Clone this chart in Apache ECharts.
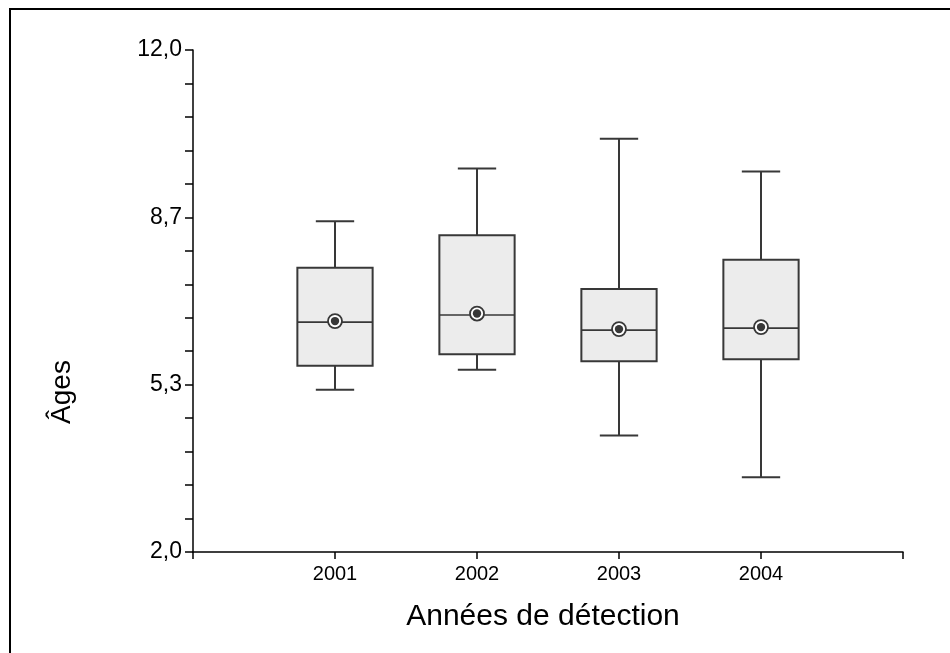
<!DOCTYPE html>
<html>
<head>
<meta charset="utf-8">
<title>Âges par année de détection</title>
<script src="https://cdn.jsdelivr.net/npm/echarts@6/dist/echarts.min.js"></script>
<style>
  html, body { margin: 0; padding: 0; background: #fff; }
  #chart { width: 950px; height: 653px; }
</style>
</head>
<body>
<div id="chart"></div>
<script>
// valeurs
var years = ['2001', '2002', '2003', '2004'];
var mins = [5.23, 5.63, 4.32, 3.49];
var q1s = [5.71, 5.94, 5.80, 5.84];
var medians = [6.58, 6.72, 6.42, 6.46];
var q3s = [7.66, 8.31, 7.24, 7.82];
var maxs = [8.59, 9.64, 10.23, 9.58];
var means = [6.60, 6.75, 6.44, 6.48];

var FONT = 'Liberation Sans, Arial, sans-serif';
var INK = '#383838';

// axe x : une case vide de chaque côté
var xCats = [''].concat(years, ['']);
var boxData = years.map(function (y, i) {
  return [i + 1, mins[i], q1s[i], medians[i], q3s[i], maxs[i], means[i]];
});

function renderBox(params, api) {
  var x = api.value(0);
  var lo = api.coord([x, api.value(1)]);
  var b1 = api.coord([x, api.value(2)]);
  var md = api.coord([x, api.value(3)]);
  var b3 = api.coord([x, api.value(4)]);
  var hi = api.coord([x, api.value(5)]);
  var mn = api.coord([x, api.value(6)]);
  var band = api.size([1, 0])[0];
  var hw = band * 0.265;
  var cw = band * 0.135;
  var cx = lo[0];
  var line = { stroke: INK, lineWidth: 2 };
  return {
    type: 'group',
    children: [
      { type: 'line', shape: { x1: cx, y1: hi[1], x2: cx, y2: b3[1] }, style: line },
      { type: 'line', shape: { x1: cx, y1: b1[1], x2: cx, y2: lo[1] }, style: line },
      { type: 'line', shape: { x1: cx - cw, y1: hi[1], x2: cx + cw, y2: hi[1] }, style: line },
      { type: 'line', shape: { x1: cx - cw, y1: lo[1], x2: cx + cw, y2: lo[1] }, style: line },
      { type: 'rect', shape: { x: cx - hw, y: b3[1], width: hw * 2, height: b1[1] - b3[1] },
        style: { fill: '#ececec', stroke: INK, lineWidth: 2 } },
      { type: 'line', shape: { x1: cx - hw, y1: md[1], x2: cx + hw, y2: md[1] },
        style: { stroke: INK, lineWidth: 1.6 } },
      { type: 'circle', shape: { cx: cx, cy: mn[1], r: 7 },
        style: { fill: '#fff', stroke: INK, lineWidth: 1.8 } },
      { type: 'circle', shape: { cx: cx, cy: mn[1], r: 4.2 }, style: { fill: INK } }
    ]
  };
}

var myChart = echarts.init(document.getElementById('chart'), null, { renderer: 'canvas' });
myChart.setOption({
  animation: false,
  backgroundColor: '#fff',
  grid: { left: 193, top: 50, right: 47, bottom: 101, containLabel: false },
  xAxis: {
    type: 'category',
    data: xCats,
    boundaryGap: false,
    axisLine: { lineStyle: { color: '#000', width: 1.5 } },
    axisTick: { show: true, interval: 0, length: 7, lineStyle: { color: '#000', width: 1.5 } },
    axisLabel: { interval: 0, margin: 12, color: '#000', fontSize: 20, fontFamily: FONT },
    splitLine: { show: false }
  },
  yAxis: {
    type: 'value',
    min: 2,
    max: 12,
    interval: 10 / 3,
    axisLine: { show: true, lineStyle: { color: '#000', width: 1.5 } },
    axisTick: { show: true, length: 8, lineStyle: { color: '#000', width: 1.5 } },
    minorTick: { show: true, splitNumber: 5, length: 8, lineStyle: { color: '#000', width: 1.5 } },
    axisLabel: {
      margin: 11, color: '#000', fontSize: 23, fontFamily: FONT,
      formatter: function (v) { return v.toFixed(1).replace('.', ','); }
    },
    splitLine: { show: false }
  },
  graphic: [
    { type: 'polyline', shape: { points: [[10, 653], [10, 9], [950, 9]] },
      style: { stroke: '#000', lineWidth: 2, fill: null } },
    { type: 'text', x: 62, y: 392, rotation: Math.PI / 2,
      style: { text: 'Âges', fontSize: 28, fontFamily: FONT, fill: '#000',
        textAlign: 'center', textVerticalAlign: 'middle' } },
    { type: 'text', x: 543, y: 617,
      style: { text: 'Années de détection', fontSize: 30, fontFamily: FONT, fill: '#000',
        textAlign: 'center', textVerticalAlign: 'middle' } }
  ],
  series: [{
    type: 'custom',
    renderItem: renderBox,
    encode: { x: 0, y: [1, 2, 3, 4, 5, 6] },
    data: boxData
  }]
});
</script>
</body>
</html>
